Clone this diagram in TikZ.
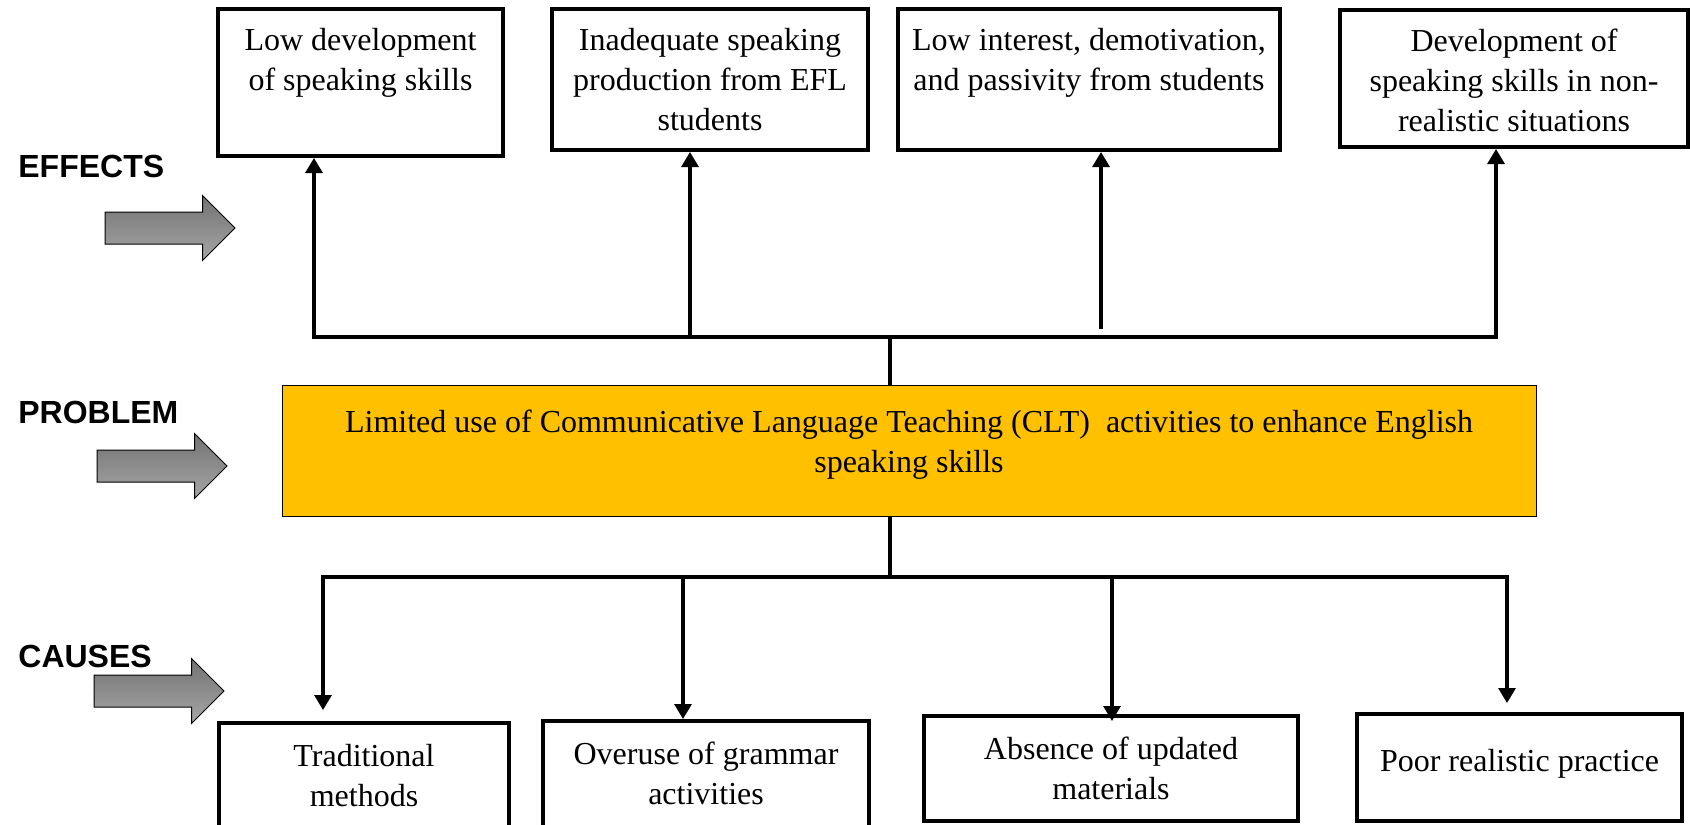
\documentclass[tikz,border=0pt]{standalone}
\usepackage{fontspec}
\setmainfont{Liberation Serif}
\setsansfont{Liberation Sans}
\usetikzlibrary{arrows.meta,positioning,shapes.arrows}
\definecolor{amber}{HTML}{FFC000}
\tikzset{box/.style={draw,line width=2pt,fill=white,inner sep=0pt},txt/.style={align=center,inner sep=0pt,font=\fontsize{16}{20}\selectfont},tag/.style={anchor=base west,inner sep=0pt,font=\sffamily\bfseries\fontsize{16}{19}\selectfont},arr/.style={-{Triangle[width=8.5pt,length=7.5pt]},line width=1.6pt},link/.style={line width=1.6pt},blockarr/.style={single arrow,draw,line width=0.5pt,top color=black!55,bottom color=black!35,inner sep=7.75pt,single arrow head extend=8.25pt,minimum height=65pt}}

\begin{document}
\begin{tikzpicture}[x=0.5pt,y=-0.5pt]
\useasboundingbox (0,0) rectangle (1690,824);
\node[box,minimum width=142.5pt,minimum height=73.5pt] (eff1) at (360.5,82.5) {};
\node[box,minimum width=158pt,minimum height=70.5pt] (eff2) at (710,79.5) {};
\node[box,minimum width=191pt,minimum height=70.5pt] (eff3) at (1089,79.5) {};
\node[box,minimum width=174pt,minimum height=68.5pt] (eff4) at (1514,78.5) {};
\node[txt,below=10.5pt of eff1.north] (eff1t) {Low development\\of speaking skills};
\node[txt,below=10.5pt of eff2.north] (eff2t) {Inadequate speaking\\production from EFL\\students};
\node[txt,below=10.5pt of eff3.north] (eff3t) {Low interest, demotivation,\\and passivity from students};
\node[txt,below=10.5pt of eff4.north] (eff4t) {Development of\\speaking skills in non-\\realistic situations};
\node[box,line width=0.5pt,fill=amber,minimum width=627pt,minimum height=65.5pt] (prob) at (909,450.5) {};
\node[txt,below=12.5pt of prob.north] (probt) {Limited use of Communicative Language Teaching (CLT)~ activities to enhance English\\speaking skills};
\node[box,minimum width=145pt,minimum height=63.5pt] (cau1) at (364,786.5) {};
\node[box,minimum width=163pt,minimum height=64.5pt] (cau2) at (706,785.5) {};
\node[box,minimum width=187pt,minimum height=52.5pt] (cau3) at (1111,768.5) {};
\node[box,minimum width=162.5pt,minimum height=53.5pt] (cau4) at (1519.5,767.5) {};
\node[txt,below=11.5pt of cau1.north] (cau1t) {Traditional\\methods};
\node[txt,below=11.5pt of cau2.north] (cau2t) {Overuse of grammar\\activities};
\node[txt,below=11.5pt of cau3.north] (cau3t) {Absence of updated\\materials};
\node[txt,below=18.5pt of cau4.north] (cau4t) {Poor realistic practice};
\node[tag] (effects) at (18,177) {EFFECTS};
\node[tag] (problem) at (18,423) {PROBLEM};
\node[tag] (causes) at (18,667) {CAUSES};
\node[blockarr] (effarr) at (162,228) {};
\node[blockarr] (probarr) at (154,466) {};
\node[blockarr] (causarr) at (151,691) {};
\coordinate (hub1) at (890,337); \coordinate (hub2) at (890,577);
\coordinate (u1) at (314,337); \coordinate (u2) at (690,337); \coordinate (u3) at (1101,329); \coordinate (u4) at (1496,337);
\coordinate (d1) at (323,577); \coordinate (d2) at (683,579); \coordinate (d3) at (1112,577); \coordinate (d4) at (1507,577);
\draw[link] (hub1) -- (hub1 |- prob.north); \draw[link] (hub2) -- (hub2 |- prob.south);
\draw[arr] (hub1) -| (u1 |- eff1.south); \draw[arr] (hub1) -| (u4 |- eff4.south);
\draw[arr] (u2) -- (u2 |- eff2.south); \draw[arr] (u3) -- (u3 |- eff3.south);
\draw[arr,shorten >=5.5pt] (hub2) -| (d1 |- cau1.north); \draw[arr,shorten >=4.5pt] (hub2) -| (d4 |- cau4.north);
\draw[arr] (d2) -- (d2 |- cau2.north); \draw[arr,shorten >=-3.5pt] (d3) -- (d3 |- cau3.north);
\end{tikzpicture}
\end{document}
